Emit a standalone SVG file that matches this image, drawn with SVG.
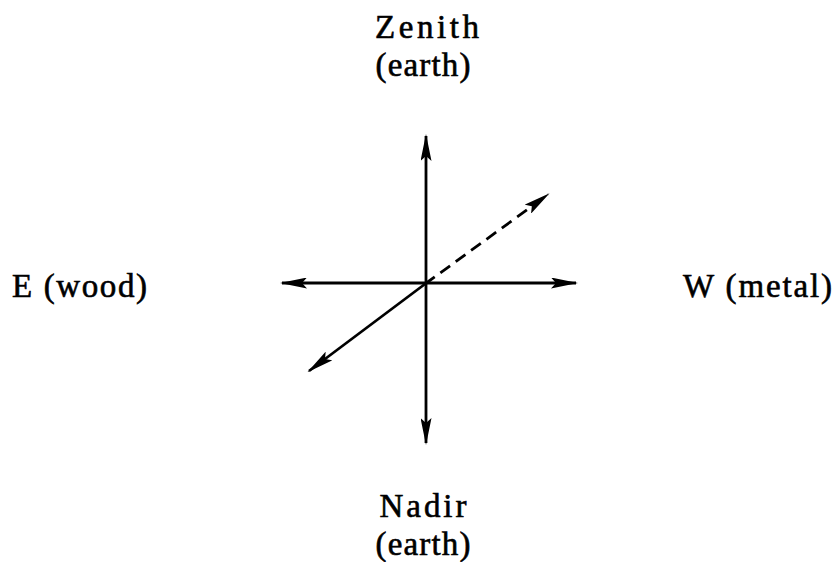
<svg xmlns="http://www.w3.org/2000/svg" width="835" height="562" viewBox="0 0 835 562">
  <style>
    .lbl { font-family: "Liberation Serif", "Times New Roman", serif; font-size: 33px; fill: #000; stroke: #000; stroke-width: 0.6; }
    .ax { stroke: #000; stroke-width: 2.8; fill: none; }
    .dash { stroke-dasharray: 12 7; }
  </style>
  <defs>
    <marker id="ah" viewBox="0 0 27 11" refX="25" refY="5.5" markerWidth="27" markerHeight="11" markerUnits="userSpaceOnUse" orient="auto-start-reverse">
      <path d="M0,0 L27,5.5 L0,11 L5,5.5 Z" fill="#000"/>
    </marker>
  </defs>
  <rect width="835" height="562" fill="#fff"/>
  <g id="connectors">
    <line class="ax" x1="426" y1="443" x2="426" y2="136" marker-start="url(#ah)" marker-end="url(#ah)"/>
    <line class="ax" x1="282" y1="283" x2="576" y2="283" marker-start="url(#ah)" marker-end="url(#ah)"/>
    <line class="ax" x1="425" y1="284" x2="309" y2="371" marker-end="url(#ah)"/>
    <line class="ax dash" x1="425" y1="284" x2="548" y2="194.5" marker-end="url(#ah)"/>
  </g>
  <g id="zenith">
    <text class="lbl" x="427" y="38" text-anchor="middle" textLength="104" lengthAdjust="spacing">Zenith</text>
    <text class="lbl" x="423" y="76" text-anchor="middle" textLength="95" lengthAdjust="spacing">(earth)</text>
  </g>
  <g id="east">
    <text class="lbl" x="12" y="297" textLength="135" lengthAdjust="spacing">E (wood)</text>
  </g>
  <g id="west">
    <text class="lbl" x="683" y="297" textLength="149" lengthAdjust="spacing">W (metal)</text>
  </g>
  <g id="nadir">
    <text class="lbl" x="423" y="517" text-anchor="middle" textLength="87" lengthAdjust="spacing">Nadir</text>
    <text class="lbl" x="423" y="555" text-anchor="middle" textLength="95" lengthAdjust="spacing">(earth)</text>
  </g>
</svg>
